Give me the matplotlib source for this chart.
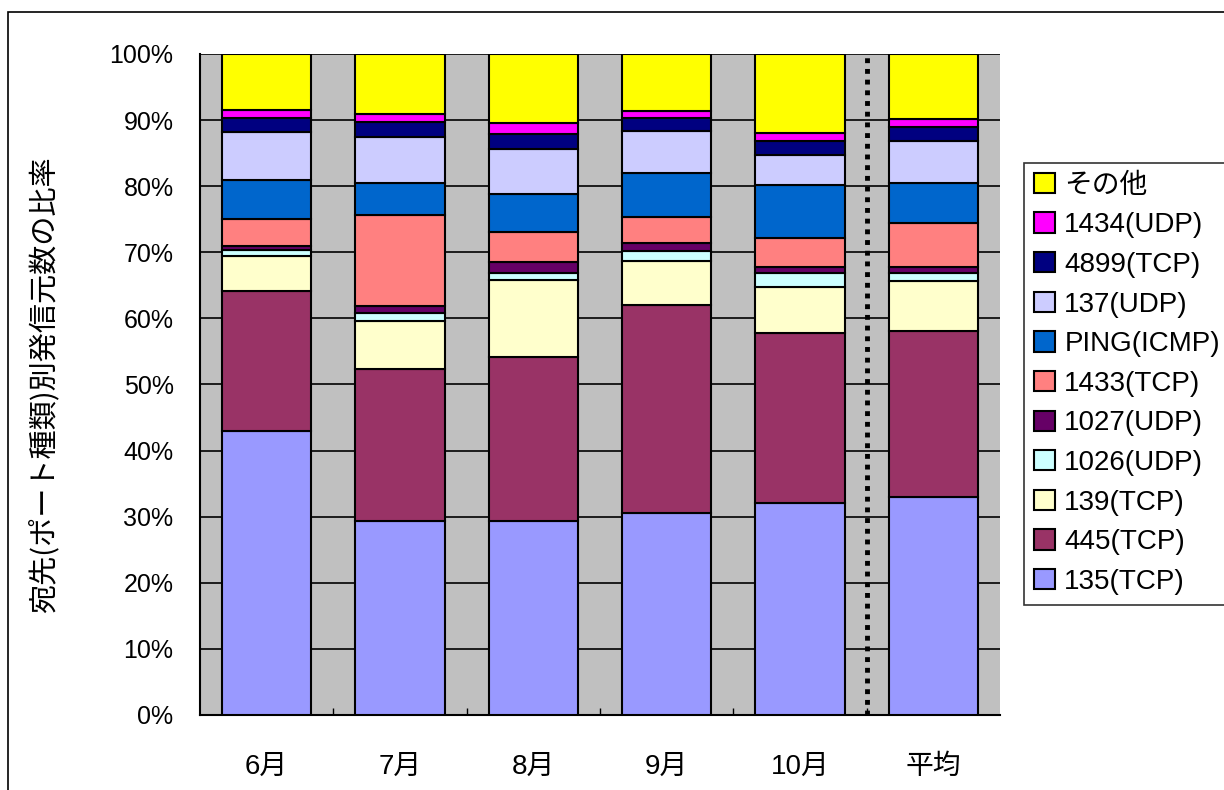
import numpy as np
import matplotlib.pyplot as plt
from matplotlib.patches import Rectangle
from matplotlib.ticker import PercentFormatter

plt.rcParams['font.family'] = ['Liberation Sans', 'Noto Sans CJK JP']

months = ["6月", "7月", "8月", "9月", "10月", "平均"]

# share (%) per destination port, bottom to top
p135 = [43.0, 29.3, 29.3, 30.5, 32.1, 33.0]
p445 = [21.2, 23.1, 24.9, 31.55, 25.7, 25.1]
p139 = [5.2, 7.2, 11.55, 6.65, 7.0, 7.6]
p1026 = [0.9, 1.25, 1.15, 1.55, 2.1, 1.2]
p1027 = [0.6, 1.0, 1.6, 1.1, 0.9, 0.9]
p1433 = [4.2, 13.85, 4.5, 4.05, 4.3, 6.7]
ping = [5.8, 4.85, 5.8, 6.65, 8.15, 6.05]
p137 = [7.3, 6.95, 6.85, 6.35, 4.5, 6.35]
p4899 = [2.1, 2.2, 2.25, 1.85, 2.15, 2.1]
p1434 = [1.2, 1.2, 1.7, 1.2, 1.2, 1.2]
other = [8.5, 9.1, 10.4, 8.55, 11.9, 9.8]

series = [
    ("135(TCP)", p135, "#9999FF"),
    ("445(TCP)", p445, "#993366"),
    ("139(TCP)", p139, "#FFFFCC"),
    ("1026(UDP)", p1026, "#CCFFFF"),
    ("1027(UDP)", p1027, "#660066"),
    ("1433(TCP)", p1433, "#FF8080"),
    ("PING(ICMP)", ping, "#0066CC"),
    ("137(UDP)", p137, "#CCCCFF"),
    ("4899(TCP)", p4899, "#000080"),
    ("1434(UDP)", p1434, "#FF00FF"),
    ("その他", other, "#FFFF00"),
]

fig = plt.figure(figsize=(12.24, 7.9), dpi=100)
ax = fig.add_axes([200/1224, 75/790, 800/1224, 661/790])
ax.set_facecolor("#C0C0C0")

x = np.arange(len(months))
bottom = np.zeros(len(months))
handles = []
for name, vals, col in series:
    v = np.array(vals) / 100
    b = ax.bar(x, v, 0.67, bottom=bottom, color=col, edgecolor="black",
               linewidth=1.5, label=name, zorder=3)
    handles.append(b)
    bottom += v

# separator between the months and the average
ax.axvline(4.5, color="black", linestyle=(0, (1, 1.2)), linewidth=3.5, zorder=4)

ax.set_xlim(-0.5, 5.5)
ax.set_ylim(0, 1)
ax.set_yticks(np.arange(0, 1.01, 0.1))
ax.yaxis.set_major_formatter(PercentFormatter(1.0, decimals=0))
ax.grid(axis="y", color="black", linewidth=1.2, zorder=1)
ax.set_xticks(x)
ax.set_xticklabels(months)
ax.set_xticks(np.arange(0.5, 5.5, 1), minor=True)
ax.tick_params(axis="x", which="major", length=0, pad=28, labelsize=20)
ax.tick_params(axis="x", which="minor", length=5, direction="in", width=1)
ax.tick_params(axis="y", length=0, pad=19, labelsize=18)
for s in ["top", "right"]:
    ax.spines[s].set_visible(False)
for s in ["left", "bottom"]:
    ax.spines[s].set_linewidth(1.5)

ax.set_ylabel("宛先(ポート種類)別発信元数の比率", fontsize=21, labelpad=36,
              family=["Noto Sans CJK JP", "Liberation Sans"])

leg = fig.legend(handles[::-1], [s[0] for s in series][::-1],
                 loc="upper left", bbox_to_anchor=(1024/1224, 1 - 163/790),
                 fontsize=20, frameon=True, fancybox=False, edgecolor="black",
                 handlelength=0.75, handleheight=0.75, handletextpad=0.35,
                 labelspacing=0.49, borderpad=0.35, borderaxespad=0)
leg.get_frame().set_linewidth(1.2)
for h in leg.legend_handles:
    h.set_linewidth(1.5)

fig.add_artist(Rectangle((8/1224, -0.05), 1.2, 1 - 12/790 + 0.05,
                         transform=fig.transFigure, fill=False,
                         edgecolor="black", linewidth=1.2))

fig.savefig("out.png", dpi=100)
